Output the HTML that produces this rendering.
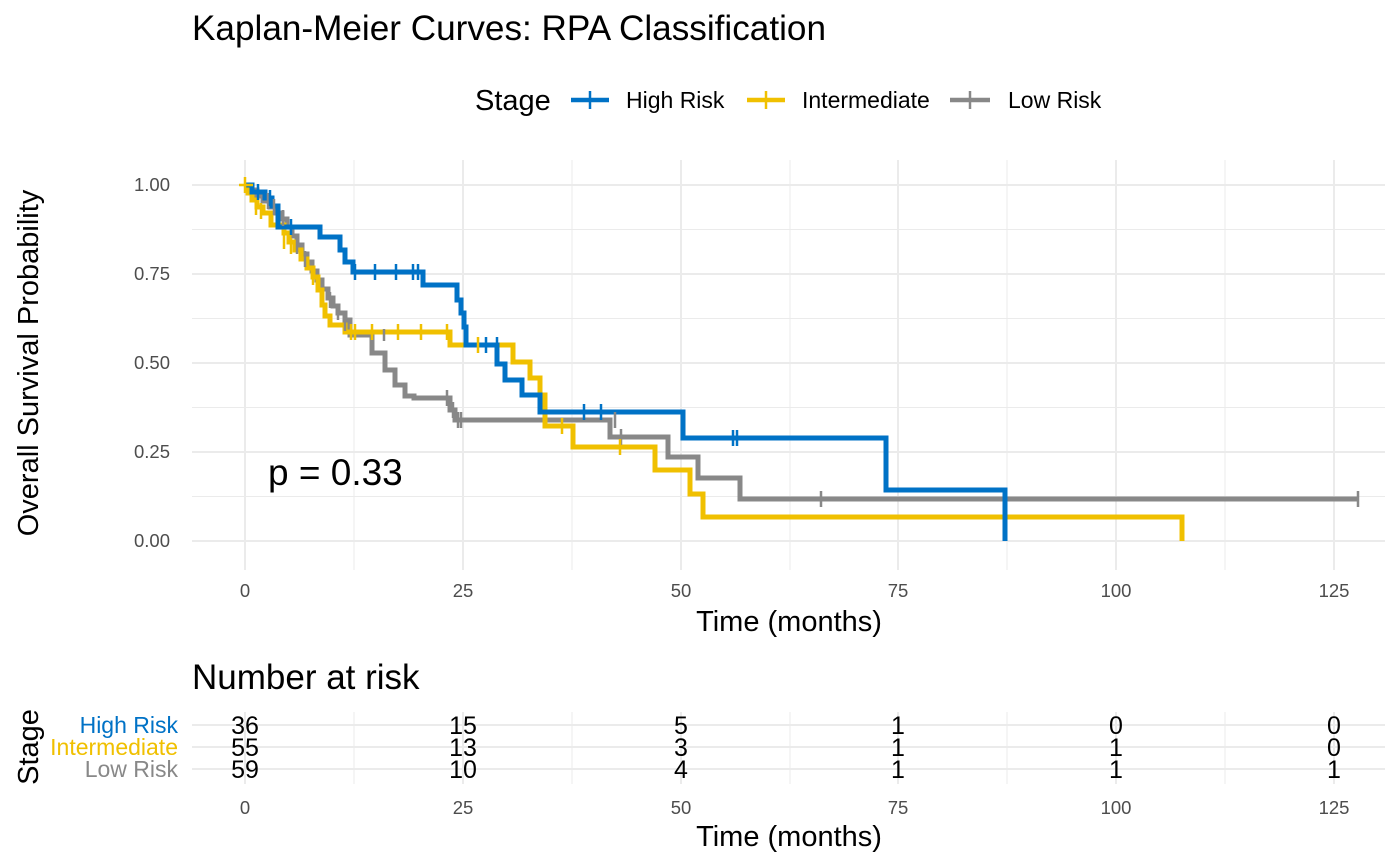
<!DOCTYPE html>
<html><head><meta charset="utf-8"><style>body{margin:0;background:#fff}svg{display:block;font-family:"Liberation Sans",sans-serif}</style></head>
<body>
<svg width="1400" height="866" viewBox="0 0 1400 866" xmlns="http://www.w3.org/2000/svg">
<rect width="1400" height="866" fill="#fff"/>
<text x="192" y="40" font-size="35" fill="#000" textLength="634" lengthAdjust="spacingAndGlyphs">Kaplan-Meier Curves: RPA Classification</text>
<!-- legend -->
<text x="475" y="110" font-size="29">Stage</text>
<g stroke-width="4.5"><line x1="571" y1="100" x2="609" y2="100" stroke="#0072c6"/><line x1="590" y1="91" x2="590" y2="109" stroke="#0072c6" stroke-width="2.5"/>
<line x1="747" y1="100" x2="785" y2="100" stroke="#f0c000"/><line x1="766" y1="91" x2="766" y2="109" stroke="#f0c000" stroke-width="2.5"/>
<line x1="950" y1="100" x2="990" y2="100" stroke="#888"/><line x1="970" y1="91" x2="970" y2="109" stroke="#888" stroke-width="2.5"/></g>
<text x="626" y="108" font-size="23">High Risk</text>
<text x="802" y="108" font-size="23">Intermediate</text>
<text x="1008" y="108" font-size="23">Low Risk</text>
<!-- grid -->
<g stroke="#ebebeb" stroke-width="1">
<line x1="192" x2="1385" y1="229.5" y2="229.5"/><line x1="192" x2="1385" y1="318.5" y2="318.5"/><line x1="192" x2="1385" y1="407.5" y2="407.5"/><line x1="192" x2="1385" y1="496.5" y2="496.5"/>
<line x1="354" x2="354" y1="160" y2="570"/><line x1="572" x2="572" y1="160" y2="570"/><line x1="790" x2="790" y1="160" y2="570"/><line x1="1007" x2="1007" y1="160" y2="570"/><line x1="1225" x2="1225" y1="160" y2="570"/>
</g>
<g stroke="#ebebeb" stroke-width="2">
<line x1="192" x2="1385" y1="185" y2="185"/><line x1="192" x2="1385" y1="274" y2="274"/><line x1="192" x2="1385" y1="363" y2="363"/><line x1="192" x2="1385" y1="452" y2="452"/><line x1="192" x2="1385" y1="541" y2="541"/>
<line x1="245" x2="245" y1="160" y2="570"/><line x1="463" x2="463" y1="160" y2="570"/><line x1="681" x2="681" y1="160" y2="570"/><line x1="898" x2="898" y1="160" y2="570"/><line x1="1116" x2="1116" y1="160" y2="570"/><line x1="1334" x2="1334" y1="160" y2="570"/>
</g>
<g font-size="18.5" fill="#4d4d4d" text-anchor="end">
<text x="170" y="191">1.00</text><text x="170" y="280">0.75</text><text x="170" y="369">0.50</text><text x="170" y="458">0.25</text><text x="170" y="547">0.00</text></g>
<g font-size="18.5" fill="#4d4d4d" text-anchor="middle">
<text x="245" y="597">0</text><text x="463" y="597">25</text><text x="681" y="597">50</text><text x="898" y="597">75</text><text x="1116" y="597">100</text><text x="1334" y="597">125</text></g>
<text x="789" y="631" font-size="29" text-anchor="middle">Time (months)</text>
<text transform="translate(38,363) rotate(-90)" font-size="29" text-anchor="middle">Overall Survival Probability</text>
<!-- curves -->
<g fill="none" stroke-width="5" stroke-linejoin="miter">
<polyline stroke="#888" points="245,185 251,185 251,190 257,190 257,196 263,196 263,201 270,201 270,207 276,207 276,213 282,213 282,219 287,219 287,227 292,227 292,236 297,236 297,245 302,245 302,254 307,254 307,262 312,262 312,271 317,271 317,280 322,280 322,289 328,289 328,298 333,298 333,306 338,306 338,313 345,313 345,320 350,320 350,335 372,335 372,353 385,353 385,370 395,370 395,385 405,385 405,396 414,396 414,398 450,398 450,410 455,410 455,420 610,420 610,437 668,437 668,457 698,457 698,478 740,478 740,499 1358,499"/>
<polyline stroke="#f0c000" points="245,185 248,185 248,193 252,193 252,200 257,200 257,207 263,207 263,213 271,213 271,225 284,225 284,233 289,233 289,242 295,242 295,250 301,250 301,259 307,259 307,268 313,268 313,277 318,277 318,290 322,290 322,305 325,305 325,316 330,316 330,325 345,325 345,332 450,332 450,345 513,345 513,362 530,362 530,378 540,378 540,395 545,395 545,426 573,426 573,447 655,447 655,470 690,470 690,494 703,494 703,517 1182,517 1182,541"/>
<polyline stroke="#0072c6" points="245,185 252,185 252,192 265,192 265,198 272,198 272,206 278,206 278,227 320,227 320,237 340,237 340,250 345,250 345,262 353,262 353,272 423,272 423,285 457,285 457,300 461,300 461,313 464,313 464,327 466,327 466,345 497,345 497,364 505,364 505,380 522,380 522,395 540,395 540,412 683,412 683,438 886,438 886,490 1005,490 1005,541"/>
</g>
<!-- censor marks -->
<g stroke-width="2.5">
<g stroke="#888"><path d="M268 193v16M274 199v16M283 210v16M297 238v16M305 251v16M330 292v16M338 304v16M345 315v16M384 329v12M447 390v16M453 402v16M458 412v16M461 412v16M615 412v16M621 429v16M821 491v16M1358 491v16"/></g>
<g stroke="#f0c000"><path d="M245 177v16M239 185h14M256 199v16M261 203v16M284 233v16M291 238v16M313 269v16M351 324v16M355 324v16M372 324v16M398 324v16M421 324v16M447 324v16M478 337v16M562 418v16M620 439v16"/></g>
<g stroke="#0072c6"><path d="M258 184v16M270 190v16M291 219v16M355 264v16M375 264v16M396 264v16M413 264v16M418 264v16M486 337v16M497 337v16M584 404v16M601 404v16M733 430v16M737 430v16"/></g>
</g>
<text x="268" y="485" font-size="37" fill="#000">p = 0.33</text>
<!-- risk table -->
<text x="192" y="689" font-size="35">Number at risk</text>
<g stroke="#ebebeb">
<line x1="354" x2="354" y1="712" y2="784"/><line x1="572" x2="572" y1="712" y2="784"/><line x1="790" x2="790" y1="712" y2="784"/><line x1="1007" x2="1007" y1="712" y2="784"/><line x1="1225" x2="1225" y1="712" y2="784"/></g>
<g stroke="#ebebeb" stroke-width="2">
<line x1="192" x2="1385" y1="725" y2="725"/><line x1="192" x2="1385" y1="747" y2="747"/><line x1="192" x2="1385" y1="769" y2="769"/>
<line x1="245" x2="245" y1="712" y2="784"/><line x1="463" x2="463" y1="712" y2="784"/><line x1="681" x2="681" y1="712" y2="784"/><line x1="898" x2="898" y1="712" y2="784"/><line x1="1116" x2="1116" y1="712" y2="784"/><line x1="1334" x2="1334" y1="712" y2="784"/></g>
<g font-size="23" text-anchor="end"><text x="178" y="733" fill="#0072c6">High Risk</text><text x="178" y="755" fill="#f0c000">Intermediate</text><text x="178" y="777" fill="#888">Low Risk</text></g>
<text transform="translate(38,747) rotate(-90)" font-size="29" text-anchor="middle">Stage</text>
<g font-size="25" text-anchor="middle">
<text x="245" y="734">36</text><text x="463" y="734">15</text><text x="681" y="734">5</text><text x="898" y="734">1</text><text x="1116" y="734">0</text><text x="1334" y="734">0</text>
<text x="245" y="756">55</text><text x="463" y="756">13</text><text x="681" y="756">3</text><text x="898" y="756">1</text><text x="1116" y="756">1</text><text x="1334" y="756">0</text>
<text x="245" y="778">59</text><text x="463" y="778">10</text><text x="681" y="778">4</text><text x="898" y="778">1</text><text x="1116" y="778">1</text><text x="1334" y="778">1</text></g>
<g font-size="18.5" fill="#4d4d4d" text-anchor="middle">
<text x="245" y="814">0</text><text x="463" y="814">25</text><text x="681" y="814">50</text><text x="898" y="814">75</text><text x="1116" y="814">100</text><text x="1334" y="814">125</text></g>
<text x="789" y="846" font-size="29" text-anchor="middle">Time (months)</text>
</svg>
</body></html>
